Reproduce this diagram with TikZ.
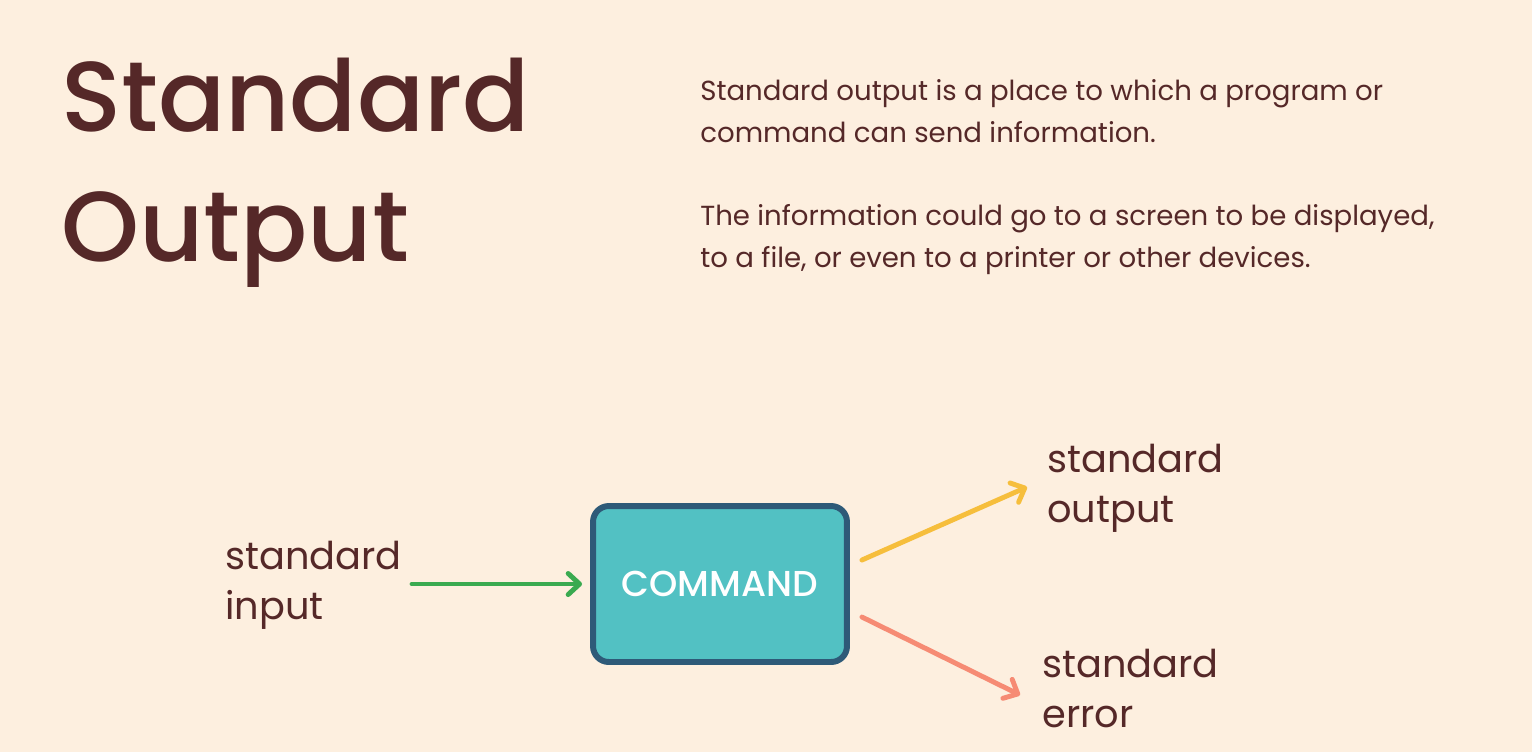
\documentclass[tikz,border=0pt]{standalone}
\usepackage{fontspec}
\setmainfont{Poppins}
\newfontfamily\headfont{Poppins Medium}
\usetikzlibrary{arrows.meta,calc}
\definecolor{paper}{HTML}{FDEFDF}
\definecolor{ink}{HTML}{552828}
\definecolor{boxfill}{HTML}{52C1C3}
\definecolor{boxline}{HTML}{2E5A78}
\definecolor{ingreen}{HTML}{3AAA50}
\definecolor{outyellow}{HTML}{F6BE3C}
\definecolor{errsalmon}{HTML}{F68B74}
\tikzstyle{stream}=[anchor=north west, inner sep=0, align=left, text=ink, font=\fontsize{21.8}{28.4}\selectfont]
\tikzstyle{body}=[anchor=north west, inner sep=0, align=left, text=ink, font=\fontsize{15.7}{23.9}\selectfont]
\tikzstyle{cmdbox}=[rectangle, rounded corners=9pt, draw=boxline, line width=3.4pt, fill=boxfill, minimum width=5.08cm, minimum height=3.12cm, text=white, font=\headfont\fontsize{20.5}{24}\selectfont]
\tikzstyle{flow}=[line width=2.8pt, line cap=round, -{Straight Barb[length=6.5pt,width=12pt,round]}]

\begin{document}
\begin{tikzpicture}[x=0.02cm,y=-0.02cm]
\fill[paper] (0,0) rectangle (1532,752);
\useasboundingbox (0,0) rectangle (1532,752);

\node (title) at (61,58) [anchor=north west, inner sep=0, align=left, text=ink, font=\headfont\fontsize{56.5}{73.7}\selectfont] {Standard\\Output};
\node (para1) at (700,79) [body] {Standard output is a place to which a program or\\command can send information.};
\node (para2) at (700,204) [body] {The information could go to a screen to be displayed,\\to a file, or even to a printer or other devices.};

\node (cmd) at (720,584) [cmdbox] {COMMAND};
\node (stdin) at (225,541) [stream] {standard\\input};
\node (stdout) at (1047,444) [stream] {standard\\output};
\node (stderr) at (1042,649) [stream] {standard\\error};

\coordinate (outtip) at (1027,487);
\coordinate (errtip) at (1020,695);

\draw[flow, ingreen] ($(stdin.east |- cmd)+(10,0)$) -- ($(cmd.west)+(-8,0)$);
\draw[flow, outyellow] ($(cmd.east)+(12,-24)$) -- (outtip);
\draw[flow, errsalmon] ($(cmd.east)+(12,33)$) -- (errtip);
\end{tikzpicture}
\end{document}
